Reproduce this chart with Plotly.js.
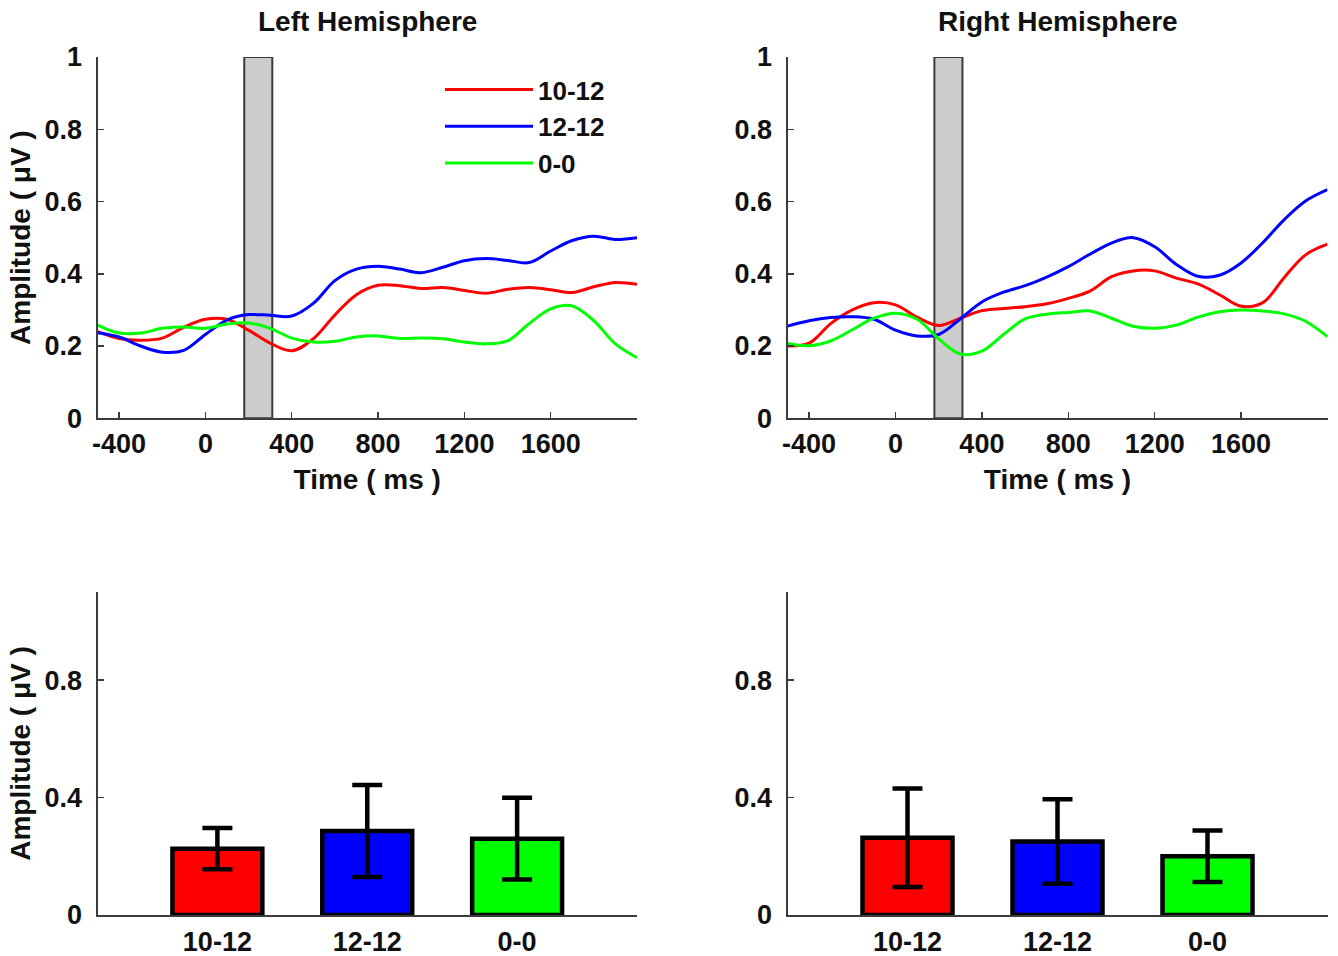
<!DOCTYPE html>
<html>
<head>
<meta charset="utf-8">
<script src="https://cdn.plot.ly/plotly-3.0.1.min.js"></script>
<style>html,body{margin:0;padding:0;background:#fff;}#chart{width:1338px;height:956px;}</style>
</head>
<body>
<div id="chart"></div>
<script>
// ---------- data ----------
const conditions = ['10-12', '12-12', '0-0'];
const colors = ['#ff0000', '#0000ff', '#00ff00'];
const timeMs = [-500,-400,-300,-200,-100,0,100,200,300,400,500,600,700,800,900,1000,1100,1200,1300,1400,1500,1600,1700,1800,1900,2000];
const analysisWindowMs = [180, 310];

const leftRed   = [0.240,0.221,0.216,0.222,0.252,0.274,0.274,0.244,0.208,0.187,0.220,0.286,0.342,0.368,0.367,0.359,0.362,0.354,0.346,0.357,0.362,0.356,0.348,0.364,0.376,0.371];
const leftBlue  = [0.237,0.225,0.200,0.183,0.188,0.232,0.272,0.287,0.285,0.283,0.318,0.381,0.413,0.421,0.413,0.403,0.418,0.436,0.442,0.437,0.431,0.463,0.492,0.504,0.495,0.500];
const leftGreen = [0.258,0.236,0.236,0.249,0.253,0.249,0.261,0.264,0.249,0.222,0.211,0.213,0.225,0.228,0.221,0.222,0.220,0.211,0.206,0.214,0.262,0.303,0.311,0.270,0.206,0.168];

const rightRed   = [0.200,0.208,0.262,0.300,0.320,0.314,0.280,0.257,0.277,0.298,0.304,0.309,0.317,0.332,0.352,0.392,0.408,0.408,0.388,0.372,0.342,0.310,0.320,0.390,0.453,0.482];
const rightBlue  = [0.255,0.270,0.279,0.281,0.274,0.244,0.228,0.232,0.275,0.322,0.349,0.367,0.391,0.420,0.454,0.485,0.500,0.475,0.426,0.393,0.396,0.430,0.486,0.550,0.602,0.633];
const rightGreen = [0.207,0.201,0.214,0.245,0.277,0.291,0.274,0.220,0.178,0.186,0.232,0.275,0.288,0.293,0.297,0.277,0.255,0.249,0.258,0.280,0.295,0.300,0.297,0.289,0.268,0.226];

const leftBarMean  = [0.226, 0.286, 0.260];
const leftBarErr   = [0.070, 0.157, 0.139];
const rightBarMean = [0.263, 0.250, 0.200];
const rightBarErr  = [0.168, 0.144, 0.088];

const timeTicks = [-400, 0, 400, 800, 1200, 1600];
const timeTickText = ['-400', '0', '400', '800', '1200', '1600'];
const ampTicksTop = [0, 0.2, 0.4, 0.6, 0.8, 1];
const ampTickTextTop = ['0', '0.2', '0.4', '0.6', '0.8', '1'];
const ampTicksBar = [0, 0.4, 0.8];
const ampTickTextBar = ['0', '0.4', '0.8'];

// ---------- build ----------
const FONT = 'Liberation Sans, Arial, Helvetica, sans-serif';
const W = 1338, H = 956;
const px = v => v / W;
const py = v => 1 - v / H;

const leftSeries = [leftRed, leftBlue, leftGreen];
const rightSeries = [rightRed, rightBlue, rightGreen];

const traces = [];
leftSeries.forEach((ys, i) => traces.push({
  type: 'scatter', mode: 'lines', x: timeMs, y: ys, name: conditions[i],
  line: {color: colors[i], width: 3, shape: 'spline', smoothing: 1},
  xaxis: 'x', yaxis: 'y', showlegend: true, hoverinfo: 'skip'
}));
rightSeries.forEach((ys, i) => traces.push({
  type: 'scatter', mode: 'lines', x: timeMs, y: ys, name: conditions[i],
  line: {color: colors[i], width: 3, shape: 'spline', smoothing: 1},
  xaxis: 'x2', yaxis: 'y2', showlegend: false, hoverinfo: 'skip'
}));
[[leftBarMean, leftBarErr, 'x3', 'y3'], [rightBarMean, rightBarErr, 'x4', 'y4']].forEach(([m, e, xa, ya]) => traces.push({
  type: 'bar', x: conditions, y: m, width: 0.6,
  marker: {color: colors, line: {color: '#000', width: 4.5}},
  error_y: {type: 'data', array: e, visible: true, color: '#000', thickness: 4.5, width: 15},
  xaxis: xa, yaxis: ya, showlegend: false, hoverinfo: 'skip'
}));

const tickFont = {family: FONT, size: 27, color: '#111', weight: 'bold'};
const titleFont = {family: FONT, size: 28, color: '#111', weight: 'bold'};
const axisCommon = {
  showline: true, linecolor: '#3c3c3c', linewidth: 2, ticks: 'inside', ticklen: 6,
  tickcolor: '#3c3c3c', tickwidth: 1.5, showgrid: false, zeroline: false,
  tickfont: tickFont, fixedrange: true
};

const leftX = [px(97.5), px(637)];
const rightX = [px(787.5), px(1327.5)];
const topY = [py(418.3), py(57)];
const botY = [py(915), py(592)];

const layout = {
  width: W, height: H,
  margin: {l: 0, r: 0, t: 0, b: 0},
  paper_bgcolor: '#fff', plot_bgcolor: 'rgba(0,0,0,0)',
  font: {family: FONT, color: '#111'},
  xaxis: Object.assign({}, axisCommon, {domain: leftX, anchor: 'y', range: [-500, 2000], tickvals: timeTicks, ticktext: timeTickText,
    ticklabelstandoff: 0, title: {text: 'Time ( ms )', font: titleFont, standoff: 12}}),
  yaxis: Object.assign({}, axisCommon, {domain: topY, anchor: 'x', range: [0, 1], tickvals: ampTicksTop, ticktext: ampTickTextTop,
    ticklabelstandoff: 8, title: {text: 'Amplitude ( μV )', font: titleFont, standoff: 6}}),
  xaxis2: Object.assign({}, axisCommon, {domain: rightX, anchor: 'y2', range: [-500, 2000], tickvals: timeTicks, ticktext: timeTickText,
    ticklabelstandoff: 0, title: {text: 'Time ( ms )', font: titleFont, standoff: 12}}),
  yaxis2: Object.assign({}, axisCommon, {domain: topY, anchor: 'x2', range: [0, 1], tickvals: ampTicksTop, ticktext: ampTickTextTop,
    ticklabelstandoff: 8}),
  xaxis3: Object.assign({}, axisCommon, {domain: leftX, anchor: 'y3', type: 'category', range: [-0.8, 2.8], ticks: '', ticklabelstandoff: 2}),
  yaxis3: Object.assign({}, axisCommon, {domain: botY, anchor: 'x3', range: [0, 1.1], tickvals: ampTicksBar, ticktext: ampTickTextBar,
    ticklabelstandoff: 8, title: {text: 'Amplitude ( μV )', font: titleFont, standoff: 6}}),
  xaxis4: Object.assign({}, axisCommon, {domain: rightX, anchor: 'y4', type: 'category', range: [-0.8, 2.8], ticks: '', ticklabelstandoff: 2}),
  yaxis4: Object.assign({}, axisCommon, {domain: botY, anchor: 'x4', range: [0, 1.1], tickvals: ampTicksBar, ticktext: ampTickTextBar,
    ticklabelstandoff: 8}),
  shapes: [
    {type: 'rect', xref: 'x', yref: 'y', x0: analysisWindowMs[0], x1: analysisWindowMs[1], y0: 0, y1: 1,
      fillcolor: '#cccccc', line: {color: '#3c3c3c', width: 2}, layer: 'below'},
    {type: 'rect', xref: 'x2', yref: 'y2', x0: analysisWindowMs[0], x1: analysisWindowMs[1], y0: 0, y1: 1,
      fillcolor: '#cccccc', line: {color: '#3c3c3c', width: 2}, layer: 'below'}
  ],
  annotations: [
    {text: 'Left Hemisphere', xref: 'paper', yref: 'paper', x: (leftX[0] + leftX[1]) / 2, y: py(22),
      xanchor: 'center', yanchor: 'middle', showarrow: false, font: titleFont},
    {text: 'Right Hemisphere', xref: 'paper', yref: 'paper', x: (rightX[0] + rightX[1]) / 2, y: py(22),
      xanchor: 'center', yanchor: 'middle', showarrow: false, font: titleFont}
  ],
  legend: {x: px(440), y: py(66), xanchor: 'left', yanchor: 'top', bgcolor: 'rgba(0,0,0,0)',
    font: {family: FONT, size: 26, color: '#111', weight: 'bold'}, itemwidth: 88, tracegroupgap: 0},
  showlegend: true
};

Plotly.newPlot('chart', traces, layout, {staticPlot: true, displayModeBar: false});
</script>
</body>
</html>
